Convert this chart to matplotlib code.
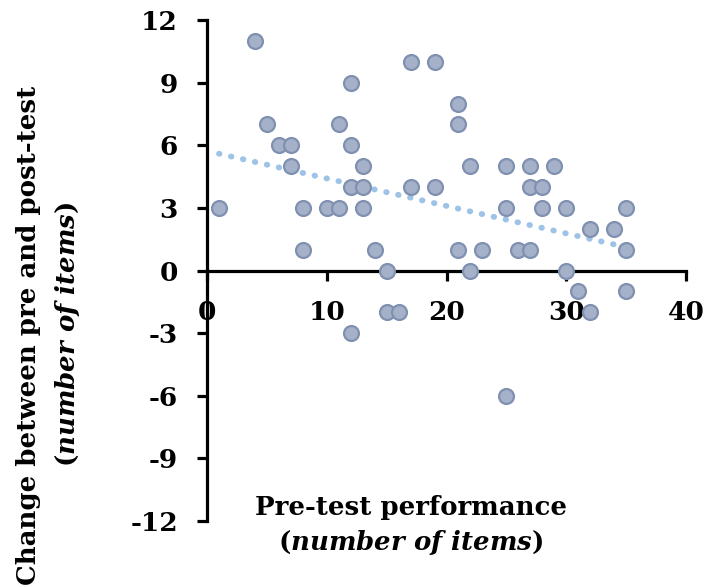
import numpy as np
import matplotlib
matplotlib.use("Agg")
import matplotlib.pyplot as plt

plt.rcParams['font.family'] = ['DejaVu Serif']
plt.rcParams['font.weight'] = 'bold'
plt.rcParams['mathtext.fontset'] = 'custom'
plt.rcParams['mathtext.it'] = 'DejaVu Serif:italic:bold'
plt.rcParams['mathtext.rm'] = 'DejaVu Serif:bold'

pre_test = [1, 4, 5, 6, 7, 7, 8, 8, 10, 11, 11, 12, 12, 12, 13, 13, 13, 12,
            14, 15, 15, 16, 17, 17, 19, 19, 21, 21, 21, 22, 22, 23, 25, 25, 25,
            26, 27, 27, 27, 28, 28, 29, 30, 30, 31, 32, 32, 34, 35, 35, 35]
change = [3, 11, 7, 6, 6, 5, 3, 1, 3, 7, 3, 9, 6, 4, 4, 5, 3, -3,
          1, 0, -2, -2, 10, 4, 10, 4, 8, 7, 1, 5, 0, 1, 5, 3, -6,
          1, 5, 4, 1, 4, 3, 5, 3, 0, -1, 2, -2, 2, 3, 1, -1]
x_ticks = [0, 10, 20, 30, 40]
y_ticks = [-12, -9, -6, -3, 0, 3, 6, 9, 12]

fig = plt.figure(figsize=(7.07, 5.87), dpi=100)
ax = fig.add_axes([0.2928, 0.1124, 0.6775, 0.8535])

x = np.array(pre_test, float)
y = np.array(change, float)
k, b = np.polyfit(x, y, 1)
xl = np.array([x.min(), x.max()])
ax.plot(xl, k * xl + b, linestyle=(0, (0.1, 2.0)), color='#9DC3E6',
        linewidth=4.2, dash_capstyle='round', zorder=2)

ax.scatter(x, y, s=115, facecolor='#A5B1C8', edgecolor='#7F90B0',
           linewidth=1.6, zorder=3)

ax.set_xlim(0, 40)
ax.set_ylim(-12, 12)
ax.spines['right'].set_visible(False)
ax.spines['top'].set_visible(False)
ax.spines['bottom'].set_position(('data', 0))
for s in ('left', 'bottom'):
    ax.spines[s].set_linewidth(2.3)
ax.set_xticks(x_ticks)
ax.set_yticks(y_ticks)
ax.set_xticklabels([str(t) for t in x_ticks])
ax.set_yticklabels([str(t) for t in y_ticks])
ax.tick_params(axis='both', width=2.3, length=7, direction='out',
               labelsize=19)
ax.tick_params(axis='y', pad=14)
ax.tick_params(axis='x', pad=14)

fig.text(0.581, 0.135, 'Pre-test performance', ha='center', va='center',
         fontsize=18.7, fontweight='bold')
fig.text(0.581, 0.075, r'($\mathit{number\ of\ items}$)', ha='center',
         va='center', fontsize=18.7, fontweight='bold')

fig.text(0.041, 0.4285, 'Change between pre and post-test', rotation=90,
         ha='center', va='center', fontsize=18.7, fontweight='bold')
fig.text(0.0955, 0.43, r'($\mathit{number\ of\ items}$)', rotation=90,
         ha='center', va='center', fontsize=18.7, fontweight='bold')

fig.savefig('out.png', dpi=100)
